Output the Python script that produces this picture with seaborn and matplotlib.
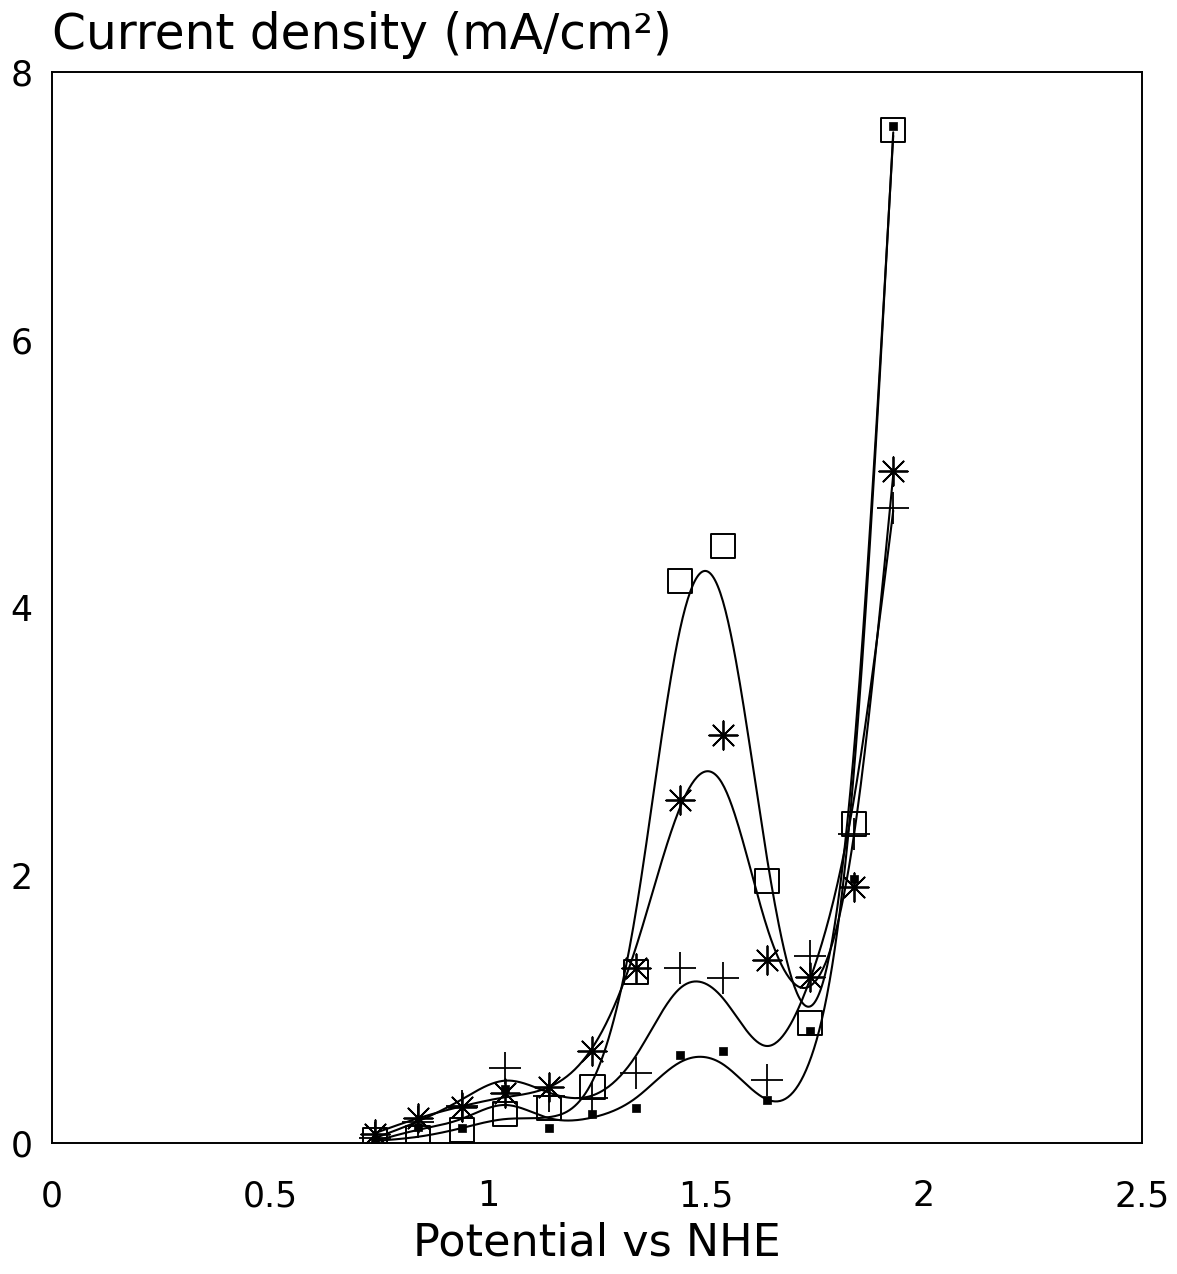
import numpy as np
import pandas as pd
import matplotlib
matplotlib.use("Agg")
import matplotlib.pyplot as plt
import seaborn as sns

# ----- data -----
potential = [0.74, 0.84, 0.94, 1.04, 1.14, 1.24, 1.34, 1.44, 1.54, 1.64, 1.74, 1.84, 1.93]

open_squares = [0.02, 0.04, 0.10, 0.22, 0.26, 0.42, 1.28, 4.20, 4.46, 1.96, 0.90, 2.38, 7.57]
asterisks = [0.07, 0.19, 0.27, 0.37, 0.42, 0.69, 1.31, 2.56, 3.05, 1.37, 1.24, 1.91, 5.02]
plusses = [0.04, 0.16, 0.28, 0.56, 0.35, 0.34, 0.52, 1.31, 1.23, 0.47, 1.40, 2.31, 4.74]
filled_squares = [0.01, 0.12, 0.11, 0.40, 0.11, 0.22, 0.26, 0.66, 0.69, 0.32, 0.84, 1.97, 7.60]

x_ticks = [0, 0.5, 1, 1.5, 2, 2.5]
x_tick_labels = ["0", "0.5", "1", "1.5", "2", "2.5"]
y_ticks = [0, 2, 4, 6, 8]
y_tick_labels = ["0", "2", "4", "6", "8"]


def smoothing_spline(x, y, lam, end_weight=10.0, n_out=400):
    # weighted cubic smoothing spline (Reinsch), numpy only
    x = np.asarray(x, float)
    y = np.asarray(y, float)
    n = len(x)
    h = np.diff(x)
    w = np.ones(n)
    w[-1] = end_weight
    Winv = np.diag(1 / w)
    Q = np.zeros((n, n - 2))
    R = np.zeros((n - 2, n - 2))
    for j in range(1, n - 1):
        Q[j - 1, j - 1] = 1 / h[j - 1]
        Q[j, j - 1] = -1 / h[j - 1] - 1 / h[j]
        Q[j + 1, j - 1] = 1 / h[j]
        R[j - 1, j - 1] = (h[j - 1] + h[j]) / 3
        if j < n - 2:
            R[j - 1, j] = R[j, j - 1] = h[j] / 6
    gamma = np.linalg.solve(R + lam * Q.T @ Winv @ Q, Q.T @ y)
    f = y - lam * Winv @ Q @ gamma
    g = np.concatenate([[0], gamma, [0]])
    t = np.linspace(x[0], x[-1], n_out)
    idx = np.clip(np.searchsorted(x, t) - 1, 0, n - 2)
    x0, x1 = x[idx], x[idx + 1]
    hi = x1 - x0
    a, b = t - x0, x1 - t
    s = (a * f[idx + 1] + b * f[idx]) / hi - a * b / 6 * ((1 + a / hi) * g[idx + 1] + (1 + b / hi) * g[idx])
    return t, s


sns.set_style("white")
plt.rcParams["font.family"] = ["DejaVu Sans"]
plt.rcParams["text.color"] = "black"
plt.rcParams["xtick.color"] = "black"
plt.rcParams["ytick.color"] = "black"
plt.rcParams["axes.labelcolor"] = "black"

fig = plt.figure(figsize=(11.77, 12.74), dpi=100)
ax = fig.add_axes([0.0442, 0.1028, 0.9258, 0.8407])

series = [
    (open_squares, 1e-4, dict(marker="s", s=300, facecolor="none", edgecolor="black", linewidth=1.4)),
    (asterisks, 1e-4, dict(marker=(8, 2, 0), s=420, color="black", linewidth=1.3)),
    (plusses, 1e-4, dict(marker="+", s=520, color="black", linewidth=1.3)),
    (filled_squares, 1e-4, dict(marker="s", s=30, color="black", edgecolor="black", linewidth=0.5)),
]

for values, lam, style in series:
    t, s = smoothing_spline(potential, values, lam)
    curve = pd.DataFrame({"x": t, "y": s})
    sns.lineplot(data=curve, x="x", y="y", ax=ax, color="black", linewidth=1.5, sort=False)
    pts = pd.DataFrame({"x": potential, "y": values})
    sns.scatterplot(data=pts, x="x", y="y", ax=ax, zorder=3, **style)

ax.set_xlim(0, 2.5)
ax.set_ylim(0, 8)
ax.set_xticks(x_ticks)
ax.set_xticklabels(x_tick_labels, fontsize=25)
ax.set_yticks(y_ticks)
ax.set_yticklabels(y_tick_labels, fontsize=25)
ax.tick_params(axis="x", direction="in", length=13, width=1.3, pad=26)
ax.tick_params(axis="y", length=0, pad=14)
ax.set_xlabel("Potential vs NHE", fontsize=32, labelpad=6)
ax.set_ylabel("")
ax.text(0.0, 1.012, "Current density (mA/cm²)", transform=ax.transAxes,
        fontsize=35, ha="left", va="bottom")

for sp in ax.spines.values():
    sp.set_visible(True)
    sp.set_color("black")
    sp.set_linewidth(1.4)

fig.savefig("out.png", dpi=100)
